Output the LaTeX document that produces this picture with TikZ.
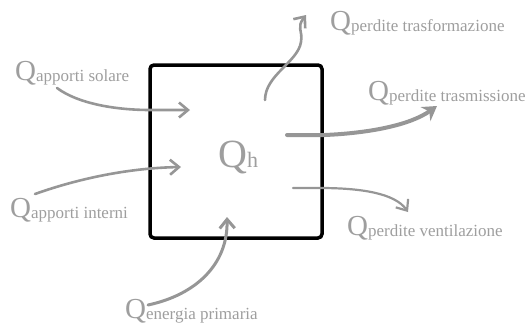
\documentclass[tikz,border=0pt]{standalone}
\usepackage{fontspec}
\setmainfont{Liberation Serif}
\usepackage{tikz}
\usetikzlibrary{arrows.meta}
\definecolor{flow}{RGB}{150,150,150}
\definecolor{labtext}{RGB}{158,158,158}
\newcommand{\qlab}[1]{{\fontsize{29}{29}\selectfont Q}\raisebox{-1pt}{\fontsize{17}{17}\selectfont #1}}

\begin{document}
\begin{tikzpicture}[x=1pt, y=-1pt]
  \tikzstyle{lab}=[anchor=base west, inner sep=0pt, text=labtext]
  \tikzstyle{flw}=[-{Straight Barb[length=9pt,width=15pt]}, line width=2.6pt, color=flow, line cap=round]
  \useasboundingbox (0,0) rectangle (528,327);
  \draw[line width=3.5pt, rounded corners=4pt] (150,65) rectangle (322,238);
  \node[lab] (qh) at (218,167) {{\fontsize{40}{40}\selectfont Q}{\fontsize{22}{22}\selectfont h}};
  % labels
  \node[lab](sol) at (15,80) {\qlab{apporti solare}};
  \node[lab](int) at (10,217) {\qlab{apporti interni}};
  \node[lab](en) at (125,318) {\qlab{energia primaria}};
  \node[lab](tf) at (330,30) {\qlab{perdite trasformazione}};
  \node[lab](tm) at (368,100) {\qlab{perdite trasmissione}};
  \node[lab](ven) at (347,235) {\qlab{perdite ventilazione}};
  % ends inside the box and tips near the labels
  \coordinate (inSol) at (190,110);
  \coordinate (inInt) at (181,167);
  \coordinate (inEn) at (227,217);
  \coordinate (outTf) at (265,100);
  \coordinate (outTm) at (287,135);
  \coordinate (outV) at (293,188);
  \coordinate (tfTip) at (306,15);
  \coordinate (tmTip) at (437,106);
  \coordinate (vTip) at (408,212);
  % flows in
  \draw[flw] (sol.base west) ++(42,8) .. controls (80,105) and (120,110) .. (150,110) -- (inSol);
  \draw[flw] (int.base west) ++(25,-23) .. controls (80,178) and (130,168) .. (inInt);
  \draw[flw, line width=3pt] (en.base west) ++(23,-13) .. controls (195,295) and (228,265) .. (inEn);
  % flows out
  \draw[flw] (outTf) .. controls (265,75) and (298,62) .. (301,42) .. controls (303,30) and (296,28) .. (tfTip);
  \draw[flw, line width=4pt, -{Stealth[length=14pt,width=17pt]}] (outTm) -- (325,135) .. controls (370,133) and (410,125) .. (tmTip);
  \draw[flw, line width=2.2pt] (outV) -- (320,188) .. controls (360,188) and (395,193) .. (vTip);
\end{tikzpicture}
\end{document}
